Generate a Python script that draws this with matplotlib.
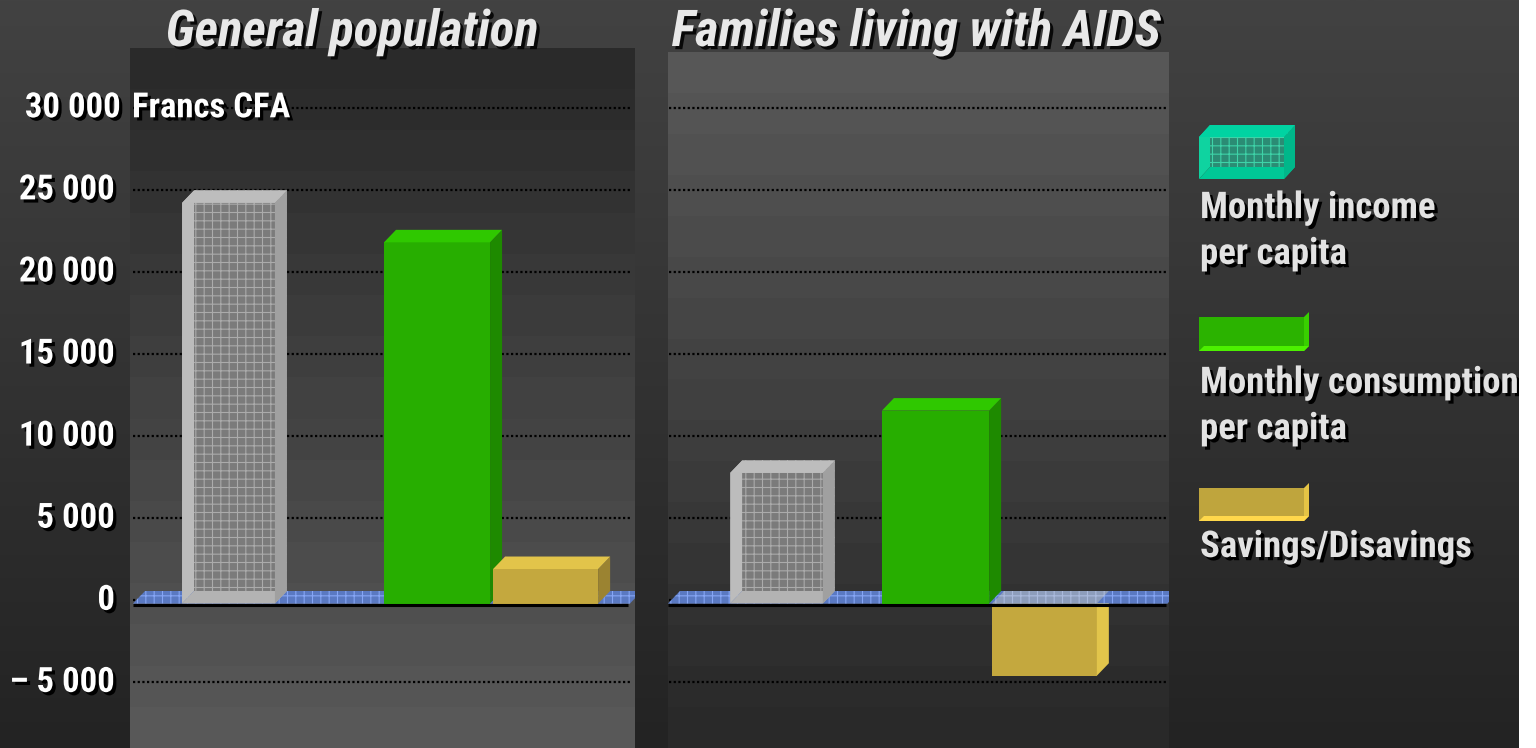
import numpy as np
import matplotlib
matplotlib.use("Agg")
import matplotlib.pyplot as plt
from matplotlib import patheffects as pe
from matplotlib import font_manager as fm
from matplotlib.patches import Polygon, Rectangle
from matplotlib.transforms import ScaledTranslation
from matplotlib.colors import to_rgb

# ---------------- data (Francs CFA per month) ----------------
panel_titles = ["General population", "Families living with AIDS"]
series_labels = ["Monthly income\nper capita", "Monthly consumption\nper capita", "Savings/Disavings"]
income = [24400, 7950]
consumption = [22000, 11750]
savings = [2100, -4400]
yticks = [30000, 25000, 20000, 15000, 10000, 5000, 0, -5000]
ytick_labels = ["30 000", "25 000", "20 000", "15 000", "10 000", "5 000", "0", "\u2013 5 000"]
unit_label = "Francs CFA"

# ---------------- layout ----------------
W, H, DPI = 1536, 748, 100
PX_PER_UNIT = 16.417 / 1000.0          # vertical scale, pixels per franc
ZERO_PX = 603.5                        # front plane zero, pixels from top
GRID_SHIFT = 3.3                       # gridline plane sits slightly above the front plane
DEPTH = (12, 12.5)                     # 3-D depth of the boxes, pixels (right, up)
panel_px = [(130, 48, 635), (668, 52, 1169)]   # left, top, right (bottom = figure bottom)
# bar slots as fractions of each panel's width: income, consumption, savings
bar_slots = [[(0.103, 0.287), (0.503, 0.713), (0.719, 0.927)],
             [(0.124, 0.309), (0.427, 0.641), (0.647, 0.856)]]


def pick_font(cands):
    names = {f.name for f in fm.fontManager.ttflist}
    for c in cands:
        if c in names:
            return c
    return "DejaVu Sans"


NARROW = pick_font(["Liberation Sans Narrow", "Arial Narrow", "Roboto Condensed",
                    "Liberation Sans"])
plt.rcParams["hatch.linewidth"] = 0.8


def shadow(off=2.3, col="black"):
    return [pe.withSimplePatchShadow(offset=(off, -off), shadow_rgbFace=col, alpha=1.0)]


def depth_units(ax, dx_px, dy_px):
    inv = ax.transData.inverted()
    a = inv.transform((0.0, 0.0))
    b = inv.transform((dx_px, dy_px))
    return b[0] - a[0], b[1] - a[1]


def gradient(top_hex, bot_hex, n):
    t = np.linspace(0, 1, n)[:, None]
    c0, c1 = np.array(to_rgb(top_hex)), np.array(to_rgb(bot_hex))
    return (c0 * (1 - t) + c1 * t)[:, None, :]


def quad(ax, pts, z, **kw):
    ax.add_patch(Polygon(pts, closed=True, zorder=z, **kw))


def glass_box(ax, x0, x1, y0, y1, d, c, z):
    dx, dy = d
    quad(ax, [(x0 + dx, y0 + dy), (x1 + dx, y0 + dy), (x1 + dx, y1 + dy), (x0 + dx, y1 + dy)], z,
         facecolor=c["back"], edgecolor=c["hatch"], hatch="++", lw=0)
    quad(ax, [(x0, y0), (x0 + dx, y0 + dy), (x0 + dx, y1 + dy), (x0, y1)], z, facecolor=c["wall"], lw=0)
    quad(ax, [(x0, y0), (x0 + dx, y0 + dy), (x1 + dx, y0 + dy), (x1, y0)], z, facecolor=c["floor"], lw=0)
    quad(ax, [(x1, y0), (x1 + dx, y0 + dy), (x1 + dx, y1 + dy), (x1, y1)], z, facecolor=c["side"], lw=0)
    quad(ax, [(x0, y1), (x0 + dx, y1 + dy), (x1 + dx, y1 + dy), (x1, y1)], z, facecolor=c["top"], lw=0)


def solid_box(ax, x0, x1, y0, y1, d, front, top, side, z):
    dx, dy = d
    lo, hi = min(y0, y1), max(y0, y1)
    quad(ax, [(x0, lo), (x1, lo), (x1, hi), (x0, hi)], z, facecolor=front, lw=0)
    quad(ax, [(x1, lo), (x1 + dx, lo + dy), (x1 + dx, hi + dy), (x1, hi)], z, facecolor=side, lw=0)
    quad(ax, [(x0, hi), (x0 + dx, hi + dy), (x1 + dx, hi + dy), (x1, hi)], z, facecolor=top, lw=0)


GLASS_GREY = dict(back="#7b7b7b", hatch="#ababab", wall="#bcbcbc", floor="#b3b3b3",
                  side="#a0a0a0", top="#bdbdbd")
GLASS_TEAL = dict(back="#2b8c74", hatch="#3ed3a8", wall="#0fd3a0", floor="#00c896",
                  side="#00b78a", top="#00d3a2")
GREEN = dict(front="#27ae00", top="#2fc800", side="#1e8a00")
YELLOW = dict(front="#c4a83e", top="#e2c44a", side="#9b8331", side_neg="#e2c54b")

TICK_PT, TITLE_PT, LEGEND_PT = 25, 36.5, 26.5

fig = plt.figure(figsize=(W / DPI, H / DPI), dpi=DPI)

# figure background
bg = fig.add_axes([0, 0, 1, 1], zorder=-10)
bg.imshow(gradient("#424242", "#232323", 256), aspect="auto", extent=(0, 1, 0, 1))
bg.set_axis_off()

panel_bg = [("#2a2a2a", "#585858"), ("#575757", "#292929")]

for i, (left, top, right) in enumerate(panel_px):
    wpx = right - left
    ax = fig.add_axes([left / W, 0, wpx / W, (H - top) / H])
    ymax = (ZERO_PX - top) / PX_PER_UNIT
    ymin = -(H - ZERO_PX) / PX_PER_UNIT
    ax.imshow(gradient(*panel_bg[i], 17), aspect="auto", extent=(0, 1, ymin, ymax),
              interpolation="nearest", zorder=0)
    ax.set_xlim(0, 1)
    ax.set_ylim(ymin, ymax)
    ax.set_axis_off()
    dx, dy = depth_units(ax, *DEPTH)

    grid_tr = ax.transData + ScaledTranslation(0, GRID_SHIFT / DPI, fig.dpi_scale_trans)
    g0, g1 = (0.006, 0.99) if i == 0 else (0.002, 0.995)
    for v in yticks:
        ax.plot([g0, g1], [v, v], transform=grid_tr, color="black", lw=1.6,
                linestyle=(0, (1, 1.1)), zorder=1, solid_capstyle="butt")

    # savings bar hanging below zero sits behind the floor
    (sx0, sx1) = bar_slots[i][2]
    if savings[i] < 0:
        solid_box(ax, sx0, sx1, 0, savings[i], (dx, dy), YELLOW["front"], YELLOW["top"],
                  YELLOW["side_neg"], 1.5)

    # floor
    f0, f1 = (0.006, 0.99) if i == 0 else (0.0, 0.997)
    quad(ax, [(f0, 0), (f0 + dx, dy), (f1 + dx, dy), (f1, 0)], 2,
         facecolor="#5a79c2", edgecolor="#86a6f5", hatch="++", lw=0)
    if savings[i] < 0:
        quad(ax, [(sx0, 0), (sx0 + dx, dy), (sx1 + dx, dy), (sx1, 0)], 2.5,
             facecolor="#efe2b0", alpha=0.35, lw=0)

    base_tr = ax.transData + ScaledTranslation(0, -1.6 / DPI, fig.dpi_scale_trans)
    ax.plot([f0, f1 - 0.003], [0, 0], transform=base_tr, color="black", lw=2.2, zorder=4,
            solid_capstyle="butt")

    # income: glass box
    ix0, ix1 = bar_slots[i][0]
    glass_box(ax, ix0, ix1, 0, income[i], (dx, dy), GLASS_GREY, 3)
    # consumption
    cx0, cx1 = bar_slots[i][1]
    solid_box(ax, cx0, cx1, 0, consumption[i], (dx, dy), GREEN["front"], GREEN["top"],
              GREEN["side"], 3)
    # savings above zero
    if savings[i] >= 0:
        solid_box(ax, sx0, sx1, 0, savings[i], (dx, dy), YELLOW["front"], YELLOW["top"],
                  YELLOW["side"], 3.2)

    # y tick labels on the first panel
    if i == 0:
        lbl_tr = ax.transData + ScaledTranslation(0, (GRID_SHIFT - 9.6) / DPI, fig.dpi_scale_trans)
        for v, s in zip(yticks, ytick_labels):
            xr = (121 if v == yticks[0] else 115) - left
            ax.text(xr / wpx, v, s, transform=lbl_tr, ha="right", va="baseline",
                    fontfamily=NARROW, fontsize=TICK_PT, fontweight="bold", color="white",
                    path_effects=shadow(), clip_on=False, zorder=6)
        ax.text((132 - left) / wpx, yticks[0], unit_label, transform=lbl_tr, ha="left",
                va="baseline", fontfamily=NARROW, fontsize=TICK_PT, fontweight="bold",
                color="white", path_effects=shadow(), zorder=6)

    cx = (left + right) / 2 + (-30 if i == 0 else -2)
    fig.text(cx / W, 1 - 46 / H, panel_titles[i], ha="center", va="baseline",
             fontfamily=NARROW, fontsize=TITLE_PT, fontweight="bold", fontstyle="italic",
             color="#e8e8e8", path_effects=shadow(2.3, "#080808"), zorder=5)

# ---------------- legend ----------------
lax = fig.add_axes([0, 0, 1, 1], zorder=5)
lax.set_xlim(0, W)
lax.set_ylim(H, 0)
lax.set_axis_off()
lax.patch.set_alpha(0)

key_boxes = [(1199, 1284, 179, 137, (11, 12)),
             (1199, 1304, 351, 317, (5, 5)),
             (1199, 1304, 521, 488, (5, 5))]
text_baselines = [218, 393, 557]
line_pitch = 46

for k, (x0, x1, yb, yt, dpx) in enumerate(key_boxes):
    d = depth_units(lax, *dpx)
    if k == 0:
        glass_box(lax, x0, x1, yb, yt, d, GLASS_TEAL, 3)
    elif k == 1:
        solid_box(lax, x0, x1, yb, yt, d, "#2bb300", "#4cf000", "#38d000", 3)
    else:
        solid_box(lax, x0, x1, yb, yt, d, "#bfa53d", "#ffd84b", "#e5c445", 3)
    for j, line in enumerate(series_labels[k].split("\n")):
        lax.text(1200, text_baselines[k] + j * line_pitch, line, ha="left", va="baseline",
                 fontfamily=NARROW, fontsize=LEGEND_PT, fontweight="bold", color="#e2e2e2",
                 path_effects=shadow(), clip_on=False, zorder=6)

# white margin on the right edge
fig.patches.append(Rectangle((1519 / W, 0), (W - 1519) / W, 1, transform=fig.transFigure,
                             facecolor="white", edgecolor="none", zorder=100))

fig.savefig("out.png", dpi=DPI)
